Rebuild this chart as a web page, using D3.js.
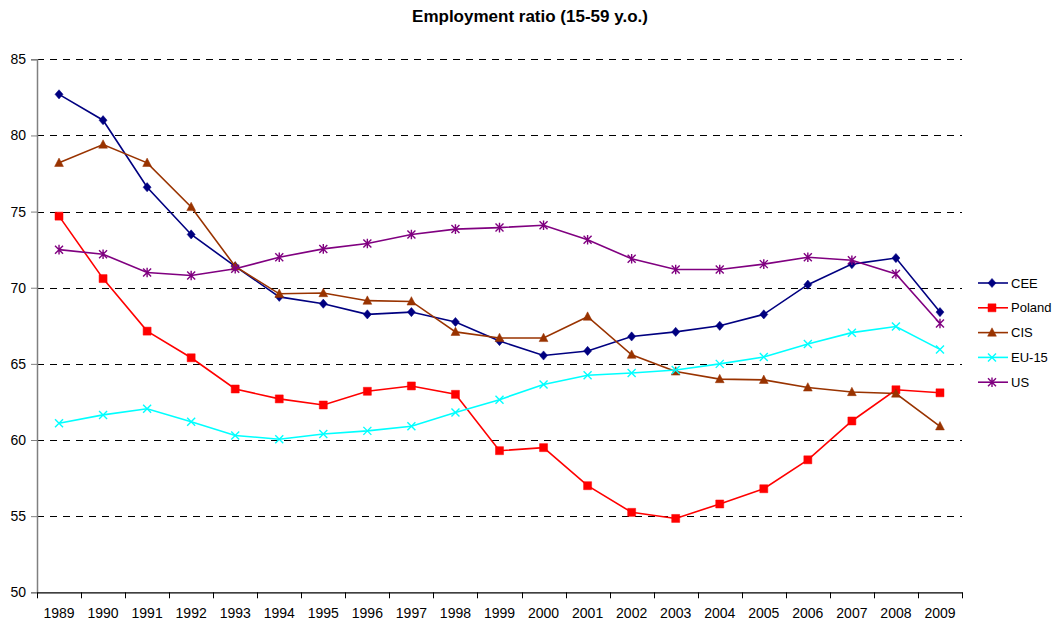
<!DOCTYPE html>
<html>
<head>
<meta charset="utf-8">
<script src="https://cdn.jsdelivr.net/npm/d3@7"></script>
<style>
	body { margin: 0; background: #fff; }
	svg { display: block; font-family: "Liberation Sans", Arial, sans-serif; }
	.grid-line { stroke: #000; stroke-width: 1; stroke-dasharray: 7 6; }
	.line { fill: none; stroke-width: 1.6; }
</style>
</head>
<body>
<div class="chart"></div>
<script>
const years = ['1989','1990','1991','1992','1993','1994','1995','1996','1997','1998','1999',
	'2000','2001','2002','2003','2004','2005','2006','2007','2008','2009'];
const yTicks = [50, 55, 60, 65, 70, 75, 80, 85];
const seriesNames = ['CEE', 'Poland', 'CIS', 'EU-15', 'US'];

const cee    = [82.7, 81.0, 76.6, 73.5, 71.4, 69.4, 68.95, 68.25, 68.4, 67.75, 66.5, 65.55, 65.85, 66.8, 67.1, 67.5, 68.25, 70.2, 71.55, 71.95, 68.4];
const poland = [74.7, 70.6, 67.15, 65.4, 63.35, 62.7, 62.3, 63.2, 63.55, 63.0, 59.3, 59.5, 57.0, 55.25, 54.85, 55.8, 56.8, 58.7, 61.25, 63.3, 63.1];
const cis    = [78.2, 79.4, 78.2, 75.3, 71.4, 69.6, 69.65, 69.15, 69.1, 67.1, 66.7, 66.7, 68.1, 65.6, 64.5, 64.0, 63.95, 63.45, 63.15, 63.05, 60.9];
const eu15   = [61.1, 61.65, 62.05, 61.2, 60.3, 60.05, 60.4, 60.6, 60.9, 61.8, 62.65, 63.65, 64.25, 64.4, 64.6, 65.0, 65.45, 66.3, 67.05, 67.45, 65.95];
const us     = [72.5, 72.2, 71.0, 70.8, 71.25, 72.0, 72.55, 72.9, 73.5, 73.85, 73.95, 74.1, 73.15, 71.9, 71.2, 71.2, 71.55, 72.0, 71.8, 70.9, 67.65];

// marker shapes, drawn around 0,0
const diamond = { draw(c, s) { const w = 4, h = 4.6; c.moveTo(0, -h); c.lineTo(w, 0); c.lineTo(0, h); c.lineTo(-w, 0); c.closePath(); } };
const square = { draw(c, s) { c.rect(-4, -4, 8, 8); } };
const triangle = { draw(c, s) { c.moveTo(0, -4.8); c.lineTo(4.4, 3.6); c.lineTo(-4.4, 3.6); c.closePath(); } };
const cross = { draw(c, s) { const r = 4; c.moveTo(-r, -r); c.lineTo(r, r); c.moveTo(r, -r); c.lineTo(-r, r); } };
const star = { draw(c, s) { const r = 4; c.moveTo(-r, -r); c.lineTo(r, r); c.moveTo(r, -r); c.lineTo(-r, r); c.moveTo(0, -r - 0.8); c.lineTo(0, r + 0.8); } };

const series = [
	{ name: seriesNames[0], values: cee,    color: '#000080', shape: diamond,  filled: true },
	{ name: seriesNames[1], values: poland, color: '#FF0000', shape: square,   filled: true },
	{ name: seriesNames[2], values: cis,    color: '#993300', shape: triangle, filled: true },
	{ name: seriesNames[3], values: eu15,   color: '#00FFFF', shape: cross,    filled: false },
	{ name: seriesNames[4], values: us,     color: '#800080', shape: star,     filled: false }
];

const W = 1055, H = 625;
const plot = { left: 37, right: 962, top: 59.3, bottom: 592.3 };

const svg = d3.select('.chart').append('svg').attr('width', W).attr('height', H);

const x = d3.scaleBand().domain(years).range([plot.left, plot.right]);
const y = d3.scaleLinear().domain([50, 85]).range([plot.bottom, plot.top]);
const cx = d => x(d) + x.bandwidth() / 2;

// title
svg.append('text')
	.attr('x', 530).attr('y', 22)
	.attr('text-anchor', 'middle')
	.style('font-size', '17px').style('font-weight', 'bold')
	.text('Employment ratio (15-59 y.o.)');

// dashed grid lines
svg.append('g').selectAll('line')
	.data(yTicks.filter(d => d > 50))
	.enter().append('line')
	.classed('grid-line', true)
	.attr('x1', plot.left).attr('x2', plot.right)
	.attr('y1', d => Math.round(y(d)) + 0.5).attr('y2', d => Math.round(y(d)) + 0.5);

// y axis
const yAxis = d3.axisLeft(y).tickValues(yTicks).tickSize(6).tickPadding(5);
const gy = svg.append('g').attr('transform', 'translate(' + plot.left + ',0)').call(yAxis);
gy.select('.domain').attr('stroke', '#808080').attr('stroke-width', 1.5);
gy.selectAll('.tick line').attr('stroke', '#808080');
gy.selectAll('.tick text').style('font-size', '14px').attr('fill', '#000').attr('font-family', null);

// x axis: labels centred in bands, ticks at band edges
const xAxis = d3.axisBottom(x).tickSize(0).tickPadding(16);
const gx = svg.append('g').attr('transform', 'translate(0,' + plot.bottom + ')').call(xAxis);
gx.select('.domain').attr('stroke', '#000').attr('stroke-width', 1.2);
gx.selectAll('.tick text').style('font-size', '14px').attr('fill', '#000').attr('font-family', null);
gx.selectAll('.edge-tick')
	.data(years.map(d => x(d)).concat([x.range()[1]]))
	.enter().append('line')
	.attr('stroke', '#000')
	.attr('x1', d => Math.round(d) + 0.5).attr('x2', d => Math.round(d) + 0.5)
	.attr('y1', 0).attr('y2', 6);

// lines and markers
const line = d3.line().x((d, i) => cx(years[i])).y(d => y(d));

series.forEach(s => {
	svg.append('path').datum(s.values)
		.classed('line', true)
		.attr('stroke', s.color)
		.attr('d', line);
	svg.append('g').selectAll('path')
		.data(s.values)
		.enter().append('path')
		.attr('d', d3.symbol().type(s.shape))
		.attr('transform', (d, i) => 'translate(' + cx(years[i]) + ',' + y(d) + ')')
		.attr('fill', s.filled ? s.color : 'none')
		.attr('stroke', s.color)
		.attr('stroke-width', s.filled ? 0.5 : 1.4);
});

// legend
const legend = svg.append('g').attr('transform', 'translate(978,283)');
const item = legend.selectAll('g').data(series).enter().append('g')
	.attr('transform', (d, i) => 'translate(0,' + (i * 24.8) + ')');
item.append('line')
	.attr('x1', 0).attr('x2', 30).attr('y1', 0).attr('y2', 0)
	.attr('stroke', d => d.color).attr('stroke-width', 1.6);
item.append('path')
	.attr('d', d => d3.symbol().type(d.shape)())
	.attr('transform', 'translate(14,0)')
	.attr('fill', d => d.filled ? d.color : 'none')
	.attr('stroke', d => d.color)
	.attr('stroke-width', d => d.filled ? 0.5 : 1.4);
item.append('text')
	.attr('x', 33).attr('y', 0).attr('dy', '0.35em')
	.style('font-size', '13px')
	.text(d => d.name);
</script>
</body>
</html>
